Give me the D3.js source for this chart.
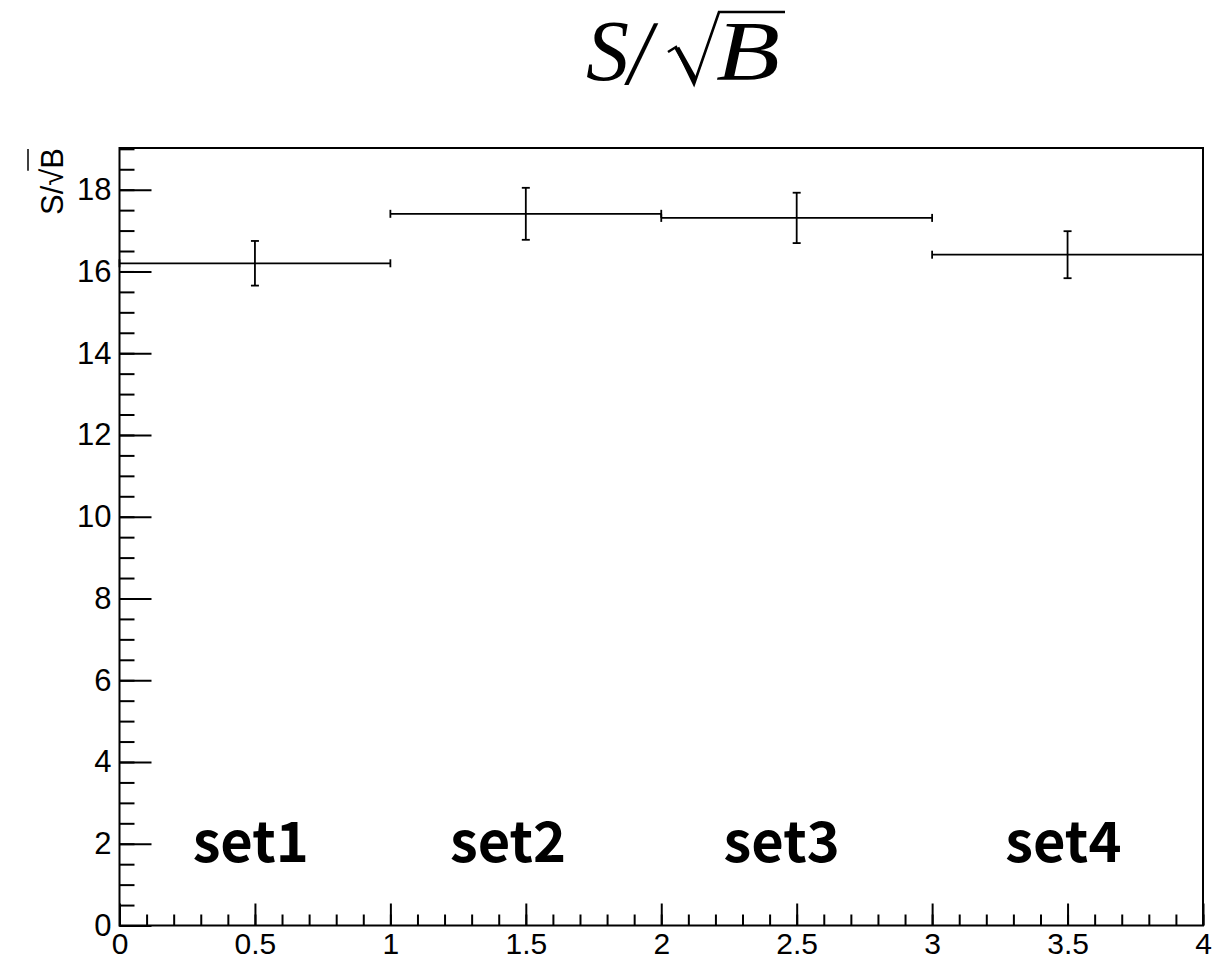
<!DOCTYPE html>
<html>
<head>
<meta charset="utf-8">
<script src="https://cdn.jsdelivr.net/npm/d3@7"></script>
<style>
body { margin: 0; background: #fff; }
</style>
</head>
<body>
<div id="chart-area"></div>
<script>
// bins of the histogram
var binEdges = [0, 1, 2, 3, 4];
var binValues = [16.20, 17.41, 17.31, 16.41];
var binErrors = [0.546, 0.636, 0.616, 0.575];

// set labels drawn inside the frame (x in axis units)
var setNames = ["set1", "set2", "set3", "set4"];
var setLabelX = [0.27, 1.22, 2.23, 3.27];
var setLabelY = 1.55;

var xTickValues = [0, 0.5, 1, 1.5, 2, 2.5, 3, 3.5, 4];
var yTickValues = [0, 2, 4, 6, 8, 10, 12, 14, 16, 18];

var width = 1229;
var height = 959;
var frame = {left: 119.5, right: 1203, top: 148, bottom: 925.5};

var svg = d3.select("#chart-area").append("svg")
    .attr("width", width)
    .attr("height", height)

var x = d3.scaleLinear()
    .domain([0, 4])
    .range([frame.left, frame.right])

var y = d3.scaleLinear()
    .domain([0, 19.02])
    .range([frame.bottom, frame.top])

var axisFont = "'Liberation Sans', Arial, Helvetica, sans-serif";

// minor ticks
var xMinor = d3.range(0, 4.0001, 0.1);
var yMinor = d3.range(0, 19.001, 0.5);

svg.append("g")
    .attr("transform", "translate(0," + frame.bottom + ")")
    .call(d3.axisBottom(x).tickValues(xMinor).tickSize(-11).tickSizeOuter(0).tickFormat(""))
    .call(g => g.select(".domain").remove())
    .selectAll("line").attr("stroke-width", 2)

svg.append("g")
    .attr("transform", "translate(" + frame.left + ",0)")
    .call(d3.axisLeft(y).tickValues(yMinor).tickSize(-15).tickSizeOuter(0).tickFormat(""))
    .call(g => g.select(".domain").remove())
    .selectAll("line").attr("stroke-width", 2)

// major ticks + labels
var xAxis = svg.append("g")
    .attr("transform", "translate(0," + frame.bottom + ")")
    .call(d3.axisBottom(x).tickValues(xTickValues).tickSize(-22).tickSizeOuter(0).tickPadding(7)
        .tickFormat(d => d3.format("~g")(d)))
xAxis.select(".domain").remove()
xAxis.selectAll("line").attr("stroke-width", 2)
xAxis.selectAll("text")
    .attr("font-family", axisFont)
    .attr("font-size", "30px")
    .attr("fill", "black")

var yAxis = svg.append("g")
    .attr("transform", "translate(" + frame.left + ",0)")
    .call(d3.axisLeft(y).tickValues(yTickValues).tickSize(-32).tickSizeOuter(0).tickPadding(8))
yAxis.select(".domain").remove()
yAxis.selectAll("line").attr("stroke-width", 2)
yAxis.selectAll("text")
    .attr("font-family", axisFont)
    .attr("font-size", "31px")
    .attr("fill", "black")

// frame
svg.append("rect")
    .attr("x", frame.left)
    .attr("y", frame.top)
    .attr("width", frame.right - frame.left)
    .attr("height", frame.bottom - frame.top)
    .attr("fill", "none")
    .attr("stroke", "black")
    .attr("stroke-width", 2)

// histogram with error bars
var bins = binValues.map((v, i) => ({
    x0: binEdges[i], x1: binEdges[i + 1], v: v, e: binErrors[i]
}))
var cap = 4;
var marks = svg.append("g")
    .attr("stroke", "black")
    .attr("stroke-width", 1.8)
    .attr("fill", "none")

bins.forEach(b => {
    var xc = x((b.x0 + b.x1) / 2);
    marks.append("line")
        .attr("x1", x(b.x0)).attr("x2", x(b.x1))
        .attr("y1", y(b.v)).attr("y2", y(b.v))
    marks.append("line")
        .attr("x1", x(b.x0)).attr("x2", x(b.x0))
        .attr("y1", y(b.v) - cap).attr("y2", y(b.v) + cap)
    marks.append("line")
        .attr("x1", x(b.x1)).attr("x2", x(b.x1))
        .attr("y1", y(b.v) - cap).attr("y2", y(b.v) + cap)
    marks.append("line")
        .attr("x1", xc).attr("x2", xc)
        .attr("y1", y(b.v - b.e)).attr("y2", y(b.v + b.e))
    marks.append("line")
        .attr("x1", xc - cap).attr("x2", xc + cap)
        .attr("y1", y(b.v + b.e)).attr("y2", y(b.v + b.e))
    marks.append("line")
        .attr("x1", xc - cap).attr("x2", xc + cap)
        .attr("y1", y(b.v - b.e)).attr("y2", y(b.v - b.e))
})

// set labels
svg.selectAll(".set-label").data(setNames)
    .enter().append("text")
    .attr("class", "set-label")
    .attr("x", (d, i) => x(setLabelX[i]))
    .attr("y", y(setLabelY))
    .attr("font-family", "'Noto Sans CJK JP', 'Noto Sans', sans-serif")
    .attr("font-weight", "bold")
    .attr("font-size", "56px")
    .attr("fill", "black")
    .text(d => d)

// Y label
var yLab = svg.append("text")
    .attr("transform", "translate(63," + frame.top + ") rotate(-90)")
    .attr("text-anchor", "end")
    .attr("font-family", axisFont)
    .attr("font-size", "31px")
    .attr("fill", "black")
    .text("S/\u221AB")
var bLen = yLab.node().getSubStringLength(3, 1)
svg.append("line")
    .attr("x1", 28).attr("x2", 28)
    .attr("y1", frame.top + 1).attr("y2", frame.top + bLen + 2)
    .attr("stroke", "black")
    .attr("stroke-width", 1.5)

// Title S/sqrt(B), radical drawn as a path
var titleFont = "'Liberation Serif', 'Times New Roman', serif";
var title = svg.append("g")
title.append("text")
    .attr("x", 586).attr("y", 80)
    .attr("font-family", titleFont)
    .attr("font-style", "italic")
    .attr("font-size", "86px")
    .text("S")
title.append("text")
    .attr("x", 626).attr("y", 84)
    .attr("font-family", titleFont)
    .attr("font-size", "92px")
    .attr("transform", "skewX(-8) translate(10,0)")
    .text("/")
title.append("text")
    .attr("x", 716).attr("y", 80)
    .attr("font-family", titleFont)
    .attr("font-style", "italic")
    .attr("font-size", "84px")
    .attr("textLength", 64)
    .attr("lengthAdjust", "spacingAndGlyphs")
    .text("B")
title.append("path")
    .attr("d", "M668,52 L676,47 L694,84 L719,12 L785,12")
    .attr("fill", "none")
    .attr("stroke", "black")
    .attr("stroke-width", 2.6)
    .attr("stroke-linejoin", "miter")
title.append("path")
    .attr("d", "M677,48 L695,80")
    .attr("fill", "none")
    .attr("stroke", "black")
    .attr("stroke-width", 5)
</script>
</body>
</html>
